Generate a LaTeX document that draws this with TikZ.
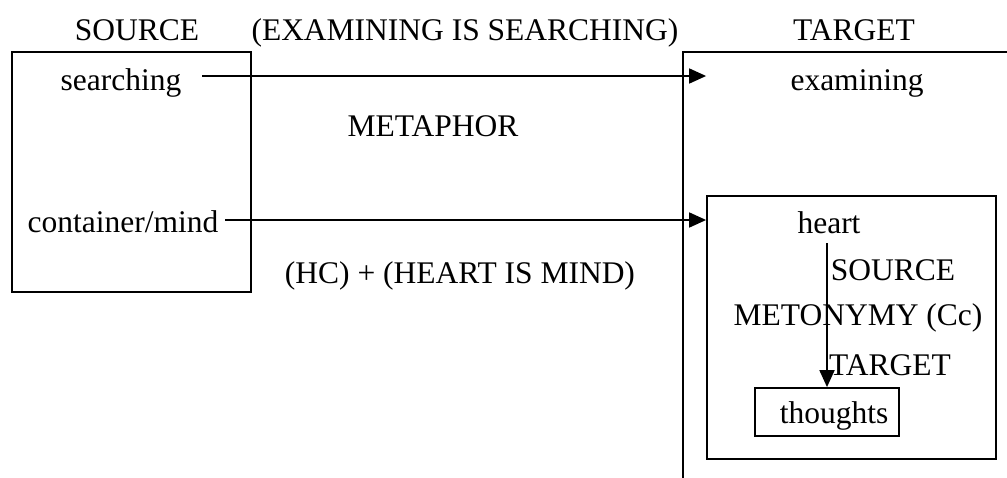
\documentclass[tikz,border=0pt]{standalone}
\usepackage{fontspec}
\setmainfont{Liberation Serif}
\usetikzlibrary{arrows.meta}
\begin{document}
\begin{tikzpicture}[x=1pt,y=-1pt,
  lbl/.style={anchor=base, inner sep=0pt, font=\fontsize{31.5}{36}\selectfont},
  ln/.style={line width=1.8pt},
  arr/.style={ln, -{Triangle[length=17pt,width=15pt]}},
  box/.style={draw, line width=1.8pt, inner sep=0pt, font=\fontsize{31.5}{36}\selectfont}]
\useasboundingbox (0,0) rectangle (1007,477);
\fill[white] (0,0) rectangle (1007,477);
% frames
\draw[ln] (12,52) rectangle (251,292);
\draw[ln] (1012,52) -- (683,52) -- (683,482);
\node[box, minimum width=289pt, minimum height=263pt] (inner) at (851.5,327.5) {};
\node[box, minimum width=144pt, minimum height=48pt, text height=30pt, text depth=7pt] (th) at (827,412) {\hspace*{14pt}thoughts};
% labels
\node[lbl] (src) at (137,40) {SOURCE};
\node[lbl] (ex) at (465,40) {(EXAMINING IS SEARCHING)};
\node[lbl] (tgt) at (854,40) {TARGET};
\node[lbl] (srch) at (121,90) {searching};
\node[lbl] (exam) at (857,90) {examining};
\node[lbl] (meta) at (433,136) {METAPHOR};
\node[lbl] (cm) at (123,232) {container/mind};
\node[lbl] (heart) at (829,233) {heart};
\node[lbl] (hc) at (460,283) {(HC) + (HEART IS MIND)};
\node[lbl] (isrc) at (893,280) {SOURCE};
\node[lbl] (meto) at (858,325) {METONYMY (Cc)};
\node[lbl] (itgt) at (890,375) {TARGET};
% connectors
\coordinate (a1) at (202,76);
\coordinate (a2) at (225,220);
\coordinate (v0) at (827,243);
\draw[arr] (a1) -- (a1 -| inner.west);
\draw[arr] (a2) -- (a2 -| inner.west);
\draw[arr] (v0) -- (th.north);
\end{tikzpicture}
\end{document}
